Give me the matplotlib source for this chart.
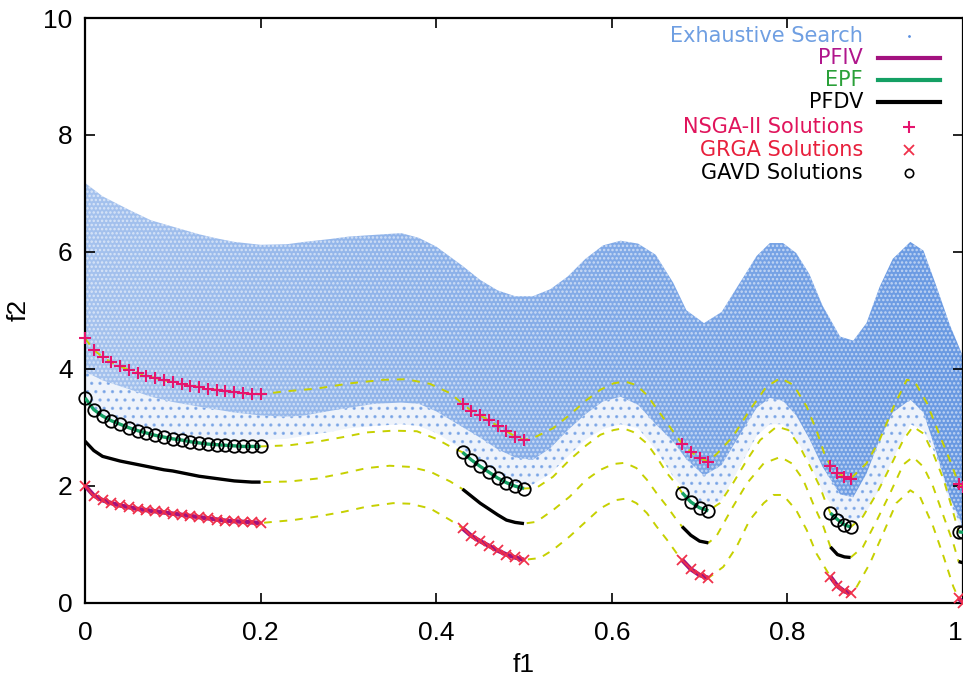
import numpy as np
import matplotlib
matplotlib.use("Agg")
import matplotlib.pyplot as plt
from matplotlib.lines import Line2D

plt.rcParams['font.family'] = ['Liberation Sans', 'DejaVu Sans']
plt.rcParams['hatch.linewidth'] = 1.2

# ---------------------------------------------------------------- data
# exhaustive-search cloud: envelopes sampled along f1
CLOUD_F1 = [0, 0.02, 0.05, 0.075, 0.1, 0.13, 0.15, 0.17, 0.2, 0.23, 0.25, 0.28, 0.3,
            0.33, 0.36, 0.38, 0.40, 0.43, 0.45, 0.47, 0.49, 0.51, 0.53, 0.55, 0.57,
            0.59, 0.61, 0.63, 0.65, 0.67, 0.685, 0.705, 0.725, 0.745, 0.765, 0.78,
            0.795, 0.81, 0.825, 0.84, 0.86, 0.875, 0.89, 0.905, 0.92, 0.94, 0.955,
            0.97, 0.985, 1.0]
CLOUD_TOP = [7.18, 6.95, 6.72, 6.54, 6.43, 6.30, 6.23, 6.17, 6.12, 6.13, 6.17, 6.22, 6.26,
             6.29, 6.32, 6.24, 6.09, 5.76, 5.52, 5.34, 5.24, 5.24, 5.36, 5.58, 5.88,
             6.11, 6.19, 6.14, 5.95, 5.47, 5.0, 4.78, 4.97, 5.45, 5.93, 6.15,
             6.15, 5.98, 5.62, 5.08, 4.55, 4.48, 4.78, 5.40, 5.88, 6.17, 6.02,
             5.40, 4.75, 4.21]
CLOUD_DENSE_LOW = [3.95, 3.8, 3.65, 3.52, 3.43, 3.35, 3.3, 3.25, 3.2, 3.18, 3.2, 3.28, 3.33,
                   3.40, 3.42, 3.40, 3.27, 3.0, 2.82, 2.62, 2.48, 2.44, 2.64, 2.95, 3.22,
                   3.44, 3.52, 3.38, 3.05, 2.75, 2.45, 2.17, 2.35, 2.85, 3.33, 3.50,
                   3.45, 3.2, 2.80, 2.32, 1.85, 1.8, 2.2, 2.78, 3.25, 3.47, 3.25,
                   2.55, 1.8, 1.3]
CLOUD_SPARSE_LOW = [3.4, 3.2, 3.05, 2.95, 2.88, 2.82, 2.80, 2.78, 2.78, 2.8, 2.85, 2.92, 2.98,
                    3.02, 3.05, 3.02, 2.9, 2.62, 2.4, 2.2, 2.05, 2.02, 2.2, 2.5, 2.78,
                    2.97, 3.05, 2.98, 2.62, 2.15, 1.9, 1.62, 1.75, 2.3, 2.85, 3.05,
                    3.05, 2.8, 2.4, 1.9, 1.45, 1.35, 1.55, 1.95, 2.45, 3.05, 2.95,
                    2.5, 1.7, 1.2]

SEG1_F1 = [0.00, 0.01, 0.02, 0.03, 0.04, 0.05, 0.06, 0.07, 0.08, 0.09, 0.10,
           0.11, 0.12, 0.13, 0.14, 0.15, 0.16, 0.17, 0.18, 0.19, 0.20]
SEG2_F1 = [0.43, 0.44, 0.45, 0.46, 0.47, 0.48, 0.49, 0.50]
SEG3_F1 = [0.680, 0.690, 0.700, 0.710]
SEG4_F1 = [0.849, 0.857, 0.865, 0.872]
SEG5_F1 = [0.995, 1.0]

# NSGA-II solutions (upper curve)
NSGA_F2 = [[4.52, 4.32, 4.20, 4.11, 4.04, 3.98, 3.93, 3.88, 3.84, 3.80, 3.77,
            3.74, 3.71, 3.69, 3.66, 3.64, 3.62, 3.60, 3.58, 3.57, 3.56],
           [3.40, 3.28, 3.20, 3.12, 3.02, 2.93, 2.84, 2.78],
           [2.72, 2.58, 2.47, 2.41],
           [2.34, 2.22, 2.15, 2.12],
           [2.03, 1.97]]
# EPF / GAVD solutions
EPF_F2 = [[3.50, 3.30, 3.19, 3.11, 3.05, 2.99, 2.94, 2.90, 2.86, 2.83, 2.80,
           2.78, 2.75, 2.73, 2.71, 2.70, 2.69, 2.68, 2.67, 2.67, 2.67],
          [2.57, 2.44, 2.33, 2.23, 2.13, 2.05, 1.99, 1.95],
          [1.88, 1.72, 1.62, 1.57],
          [1.53, 1.42, 1.33, 1.29],
          [1.21, 1.20]]
# PFDV
PFDV_F2 = [[2.76, 2.60, 2.50, 2.46, 2.42, 2.39, 2.36, 2.33, 2.30, 2.27, 2.25,
            2.22, 2.19, 2.16, 2.14, 2.12, 2.10, 2.08, 2.07, 2.06, 2.06],
           [1.94, 1.82, 1.70, 1.60, 1.50, 1.41, 1.37, 1.35],
           [1.30, 1.15, 1.05, 1.02],
           [0.95, 0.82, 0.78, 0.77],
           [0.70, 0.68]]
# PFIV / GRGA solutions
PFIV_F2 = [[2.00, 1.83, 1.75, 1.70, 1.66, 1.63, 1.60, 1.58, 1.56, 1.54, 1.52,
            1.50, 1.48, 1.46, 1.44, 1.42, 1.40, 1.39, 1.38, 1.37, 1.36],
           [1.27, 1.14, 1.05, 0.97, 0.89, 0.82, 0.77, 0.73],
           [0.73, 0.57, 0.47, 0.42],
           [0.44, 0.28, 0.19, 0.16],
           [0.07, 0.00]]

# dashed connecting curves between the front segments
GAP_A = [([0.226, 0.264, 0.302, 0.34, 0.366, 0.393, 0.416],
          [3.61, 3.66, 3.75, 3.81, 3.82, 3.74, 3.58]),
         ([0.514, 0.533, 0.552, 0.571, 0.587, 0.602, 0.615, 0.628, 0.64, 0.651, 0.663, 0.674],
          [2.84, 2.98, 3.21, 3.46, 3.64, 3.75, 3.78, 3.72, 3.55, 3.32, 3.07, 2.84]),
         ([0.72, 0.738, 0.757, 0.776, 0.792, 0.807, 0.822, 0.833, 0.842],
          [2.55, 2.84, 3.29, 3.69, 3.84, 3.72, 3.35, 2.95, 2.55]),
         ([0.89, 0.905, 0.921, 0.936, 0.945, 0.959, 0.974, 0.985],
          [2.38, 2.78, 3.35, 3.81, 3.78, 3.41, 2.84, 2.44])]
GAP_B = [([0.233, 0.264, 0.294, 0.321, 0.351, 0.378, 0.40, 0.417],
          [2.69, 2.75, 2.83, 2.91, 2.94, 2.93, 2.80, 2.66]),
         ([0.514, 0.533, 0.552, 0.571, 0.587, 0.602, 0.613, 0.624, 0.64, 0.651, 0.663, 0.674],
          [1.96, 2.15, 2.44, 2.69, 2.87, 2.95, 2.98, 2.92, 2.72, 2.49, 2.21, 2.01]),
         ([0.723, 0.738, 0.754, 0.769, 0.788, 0.801, 0.814, 0.826, 0.837, 0.844],
          [1.70, 2.04, 2.44, 2.78, 3.01, 2.95, 2.67, 2.32, 1.98, 1.70]),
         ([0.886, 0.902, 0.917, 0.932, 0.943, 0.955, 0.966, 0.978, 0.987],
          [1.47, 1.87, 2.32, 2.78, 3.01, 2.89, 2.55, 2.10, 1.64])]
GAP_C = [([0.233, 0.264, 0.294, 0.321, 0.347, 0.37, 0.393, 0.416],
          [2.07, 2.12, 2.21, 2.30, 2.34, 2.32, 2.24, 2.07]),
         ([0.514, 0.533, 0.552, 0.571, 0.587, 0.602, 0.615, 0.628, 0.64, 0.651, 0.663, 0.674],
          [1.38, 1.58, 1.81, 2.10, 2.27, 2.37, 2.39, 2.30, 2.10, 1.87, 1.64, 1.41]),
         ([0.719, 0.738, 0.754, 0.773, 0.792, 0.805, 0.818, 0.829, 0.841],
          [1.13, 1.64, 2.04, 2.38, 2.49, 2.38, 2.10, 1.70, 1.30]),
         ([0.886, 0.902, 0.917, 0.932, 0.943, 0.955, 0.966, 0.978, 0.989],
          [0.95, 1.41, 1.87, 2.36, 2.49, 2.32, 1.98, 1.47, 1.01])]
GAP_D = [([0.237, 0.264, 0.294, 0.321, 0.351, 0.37, 0.393, 0.416],
          [1.41, 1.47, 1.55, 1.64, 1.70, 1.69, 1.61, 1.41]),
         ([0.518, 0.533, 0.552, 0.568, 0.587, 0.604, 0.617, 0.628, 0.64, 0.651, 0.663, 0.674],
          [0.76, 0.90, 1.13, 1.35, 1.61, 1.75, 1.78, 1.70, 1.53, 1.30, 1.07, 0.84]),
         ([0.727, 0.742, 0.757, 0.773, 0.784, 0.795, 0.81, 0.822, 0.833],
          [0.61, 0.95, 1.41, 1.70, 1.84, 1.84, 1.58, 1.24, 0.84]),
         ([0.879, 0.894, 0.909, 0.924, 0.94, 0.951, 0.966, 0.978, 0.989],
          [0.27, 0.67, 1.18, 1.70, 1.92, 1.81, 1.30, 0.78, 0.27])]

SEGMENTS_F1 = [SEG1_F1, SEG2_F1, SEG3_F1, SEG4_F1, SEG5_F1]

X_TICKS = [0, 0.2, 0.4, 0.6, 0.8, 1.0]
X_TICK_LABELS = ['0', '0.2', '0.4', '0.6', '0.8', '1']
Y_TICKS = [0, 2, 4, 6, 8, 10]

# ---------------------------------------------------------------- style
C_CLOUD = '#5b90e0'
C_DASH = '#c6d000'
C_PFIV = '#a3127f'
C_EPF = '#14a064'
C_NSGA = '#e5146e'
C_GRGA = '#f0304a'


def full_curve(seg_f2, gaps):
    xs, ys = [], []
    for i, (sx, sy) in enumerate(zip(SEGMENTS_F1, seg_f2)):
        xs += list(sx)
        ys += list(sy)
        if i < len(gaps):
            xs += list(gaps[i][0])
            ys += list(gaps[i][1])
    return xs, ys


W, H = 963, 687
fig = plt.figure(figsize=(W / 100, H / 100), dpi=100)
ax = fig.add_axes([85 / W, 1 - 602.5 / H, (963 - 85) / W, (602.5 - 18) / H])

# exhaustive search cloud: sparse fringe and dense body
ax.fill_between(CLOUD_F1, CLOUD_SPARSE_LOW, CLOUD_DENSE_LOW, facecolor=C_CLOUD,
                alpha=0.10, linewidth=0, zorder=1)
ax.fill_between(CLOUD_F1, CLOUD_SPARSE_LOW, CLOUD_DENSE_LOW, facecolor='none',
                edgecolor=C_CLOUD, hatch='..', linewidth=0, alpha=0.6, zorder=1)
body = ax.fill_between(CLOUD_F1, CLOUD_DENSE_LOW, CLOUD_TOP, facecolor='none',
                       linewidth=0, zorder=1)
rgb = matplotlib.colors.to_rgb(C_CLOUD)
grad = np.zeros((2, 256, 4))
grad[..., 0], grad[..., 1], grad[..., 2] = rgb
grad[..., 3] = np.linspace(0.55, 0.92, 256)[None, :]
im = ax.imshow(grad, extent=[0, 1, 0, 10], aspect='auto', zorder=1,
               interpolation='bilinear', origin='lower')
im.set_clip_path(body.get_paths()[0], transform=ax.transData)
ax.fill_between(CLOUD_F1, CLOUD_DENSE_LOW, CLOUD_TOP, facecolor='none',
                edgecolor='white', hatch='....', linewidth=0, alpha=0.55, zorder=1.5)

# dashed connecting curves
for segs, gaps in [(NSGA_F2, GAP_A), (EPF_F2, GAP_B), (PFDV_F2, GAP_C), (PFIV_F2, GAP_D)]:
    xs, ys = full_curve(segs, gaps)
    ax.plot(xs, ys, color=C_DASH, lw=1.4, dashes=(4, 4), zorder=2)

# fronts
for sx, e, d, p in zip(SEGMENTS_F1, EPF_F2, PFDV_F2, PFIV_F2):
    ax.plot(sx, p, color=C_PFIV, lw=3.2, zorder=3, solid_capstyle='butt')
    ax.plot(sx, e, color=C_EPF, lw=2.4, zorder=3, solid_capstyle='butt')
    ax.plot(sx, d, color='black', lw=2.4, zorder=3, solid_capstyle='butt')

# solutions
for sx, n, e, p in zip(SEGMENTS_F1, NSGA_F2, EPF_F2, PFIV_F2):
    ax.plot(sx, n, ls='none', marker='+', ms=9, mew=1.5, color=C_NSGA, zorder=4, clip_on=False)
    ax.plot(sx, p, ls='none', marker='x', ms=7.5, mew=1.3, color=C_GRGA, zorder=4, clip_on=False)
    ax.plot(sx, e, ls='none', marker='o', ms=9, mew=1.3, mfc='none', mec='black',
            zorder=4, clip_on=False)

ax.set_xlim(0, 1)
ax.set_ylim(0, 10)
ax.set_xticks(X_TICKS)
ax.set_xticklabels(X_TICK_LABELS)
ax.set_yticks(Y_TICKS)
ax.tick_params(direction='in', length=7, width=1.2, top=True, right=True,
               labelsize=19, pad=9)
ax.tick_params(axis='x', pad=13)
# keep the last x label inside the canvas
ax.get_xticklabels()[-1].set_horizontalalignment('right')
for s in ax.spines.values():
    s.set_linewidth(1.6)
ax.set_xlabel('f1', fontsize=19, labelpad=6)
ax.set_ylabel('f2', fontsize=19, labelpad=9)

# key
tf = fig.transFigure
def fx(px):
    return px / W
def fy(py):
    return 1 - py / H

key_rows = [
    ('Exhaustive Search', '#6f9fe2', 36, 'dot'),
    ('PFIV', '#b0168c', 58, C_PFIV),
    ('EPF', '#2aa038', 80, C_EPF),
    ('PFDV', 'black', 101.5, 'black'),
    ('NSGA-II Solutions', '#e0145c', 127, '+'),
    ('GRGA Solutions', '#e8203c', 150, 'x'),
    ('GAVD Solutions', 'black', 173, 'o'),
]
for label, tc, py, kind in key_rows:
    fig.text(fx(863), fy(py), label, color=tc, ha='right', va='center',
             fontsize=15, family=['DejaVu Sans'])
    if kind == 'dot':
        fig.add_artist(Line2D([fx(909)], [fy(py)], transform=tf, ls='none',
                              marker='.', ms=2, color=C_CLOUD))
    elif kind == '+':
        fig.add_artist(Line2D([fx(909)], [fy(py)], transform=tf, ls='none',
                              marker='+', ms=9, mew=1.5, color=C_NSGA))
    elif kind == 'x':
        fig.add_artist(Line2D([fx(909)], [fy(py)], transform=tf, ls='none',
                              marker='x', ms=7.5, mew=1.3, color=C_GRGA))
    elif kind == 'o':
        fig.add_artist(Line2D([fx(909)], [fy(py)], transform=tf, ls='none',
                              marker='o', ms=6, mew=1.2, mfc='none', mec='black'))
    else:
        fig.add_artist(Line2D([fx(878), fx(940)], [fy(py), fy(py)], transform=tf,
                              color=kind, lw=3))

fig.savefig('out.png', dpi=100)
